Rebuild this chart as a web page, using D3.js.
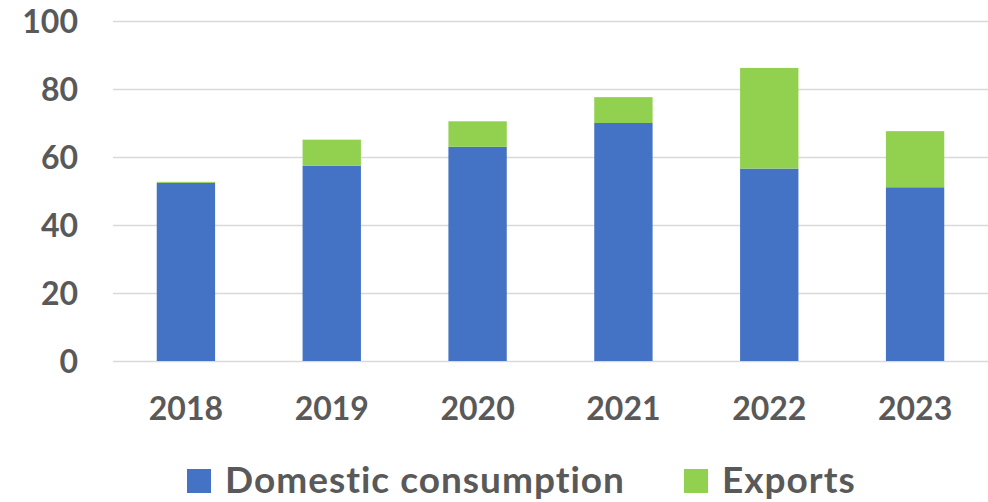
<!DOCTYPE html>
<html>
<head>
<meta charset="utf-8">
<script src="https://cdn.jsdelivr.net/npm/d3@7"></script>
<style>
  body { margin: 0; background: #fff; }
  svg text { font-family: Lato, "Open Sans", sans-serif; font-weight: bold; fill: #595959; }
</style>
</head>
<body>
<svg id="chart" width="988" height="502"></svg>
<script>
var years = ["2018", "2019", "2020", "2021", "2022", "2023"];
var domestic = [52.4, 57.4, 63.0, 70.0, 56.6, 51.1];
var exports = [0.3, 7.7, 7.5, 7.6, 29.6, 16.5];
var yTicks = [0, 20, 40, 60, 80, 100];
var seriesNames = ["Domestic consumption", "Exports"];
var colors = ["#4472C4", "#92D050"];

var svg = d3.select("#chart");
var margin = { top: 21, right: 0, bottom: 141, left: 113 },
    width = 988 - margin.left - margin.right,
    height = 502 - margin.top - margin.bottom;

var rows = years.map(function(y, i) {
  return { year: y, domestic: domestic[i], exports: exports[i] };
});
var stacked = d3.stack().keys(["domestic", "exports"])(rows);

var x = d3.scaleBand().domain(years).range([0, width])
    .paddingInner(0.6).paddingOuter(0.3);
var y = d3.scaleLinear().domain([0, 100]).range([height, 0]);

var g = svg.append("g")
    .attr("transform", "translate(" + margin.left + "," + margin.top + ")");

// gridlines
g.append("g")
    .attr("class", "grid")
    .call(d3.axisLeft(y).tickValues(yTicks).tickSize(-width).tickFormat(""))
    .call(function(s) {
      s.select(".domain").remove();
      s.selectAll("line").attr("stroke", "#d9d9d9").attr("stroke-width", 1.5);
    });

// y labels
g.append("g")
    .call(d3.axisLeft(y).tickValues(yTicks).tickSize(0).tickPadding(35))
    .call(function(s) {
      s.select(".domain").remove();
      s.selectAll("text").style("font-size", "32px").attr("dy", "0.36em");
    });

// bars
g.selectAll(".series")
  .data(stacked)
  .enter().append("g")
    .attr("class", "series")
    .attr("fill", function(d, i) { return colors[i]; })
  .selectAll("rect")
  .data(function(d) { return d; })
  .enter().append("rect")
    .attr("x", function(d) { return x(d.data.year); })
    .attr("y", function(d) { return y(d[1]); })
    .attr("width", x.bandwidth())
    .attr("height", function(d) { return y(d[0]) - y(d[1]); });

// x labels
g.append("g")
    .attr("transform", "translate(0," + height + ")")
    .call(d3.axisBottom(x).tickSize(0).tickPadding(36))
    .call(function(s) {
      s.select(".domain").remove();
      s.selectAll("text").style("font-size", "32px");
    });

// legend
var legendX = [187, 684];
var legend = svg.selectAll(".legend")
  .data(seriesNames)
  .enter().append("g")
    .attr("class", "legend")
    .attr("transform", function(d, i) { return "translate(" + legendX[i] + ",469)"; });
legend.append("rect")
    .attr("width", 24).attr("height", 24)
    .attr("fill", function(d, i) { return colors[i]; });
legend.append("text")
    .attr("x", 38).attr("y", 24)
    .style("font-size", "37px")
    .style("letter-spacing", "1px")
    .text(function(d) { return d; });
</script>
</body>
</html>
